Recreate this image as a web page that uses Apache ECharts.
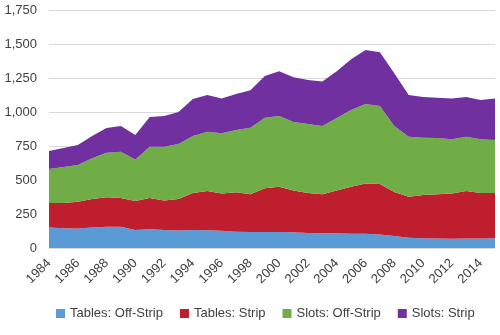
<!DOCTYPE html>
<html>
<head>
<meta charset="utf-8">
<script src="https://cdn.jsdelivr.net/npm/echarts@6/dist/echarts.min.js"></script>
<style>html,body{margin:0;padding:0;background:#fff}#c{width:500px;height:335px}</style>
</head>
<body>
<div id="c"></div>
<script>
var years = [];
for (var y = 1984; y <= 2015; y++) years.push(String(y));
var seriesNames = ['Tables: Off-Strip', 'Tables: Strip', 'Slots: Off-Strip', 'Slots: Strip'];
var tablesOffStrip = [150,145,143,150,157,157,132,137,133,128,133,130,127,120,118,118,118,115,110,108,108,105,105,100,88,75,72,70,68,70,70,72];
var tablesStrip    = [181,186,197,210,216,210,213,230,217,232,272,290,273,290,277,322,332,307,295,287,314,345,370,370,324,302,318,325,332,350,335,333];
var slotsOffStrip  = [250,265,270,300,327,341,305,378,395,405,418,435,443,457,490,518,520,505,507,502,533,564,583,575,485,441,420,413,400,398,395,390];
var slotsStrip     = [132,139,147,163,182,189,180,218,225,235,272,270,257,265,275,306,330,328,323,328,345,373,397,395,388,307,300,297,300,292,288,305];
var colors = ['#5b9bd5', '#be1e2d', '#70ad47', '#7030a0'];
var dataSets = [tablesOffStrip, tablesStrip, slotsOffStrip, slotsStrip];

var chart = echarts.init(document.getElementById('c'), null, {renderer: 'canvas'});
var font = 'Liberation Sans, Arial, sans-serif';
chart.setOption({
  animation: false,
  color: colors,
  grid: {left: 49, right: 5, top: 10, bottom: 87},
  legend: {
    bottom: 10, left: 51,
    icon: 'rect', itemWidth: 9, itemHeight: 9, itemGap: 17,
    textStyle: {fontFamily: font, fontSize: 13, color: '#404040'},
    data: seriesNames
  },
  xAxis: {
    type: 'category', data: years, boundaryGap: false,
    axisLine: {show: false}, axisTick: {show: false},
    axisLabel: {interval: 1, rotate: 45, fontFamily: font, fontSize: 13, color: '#404040', margin: 13}
  },
  yAxis: {
    type: 'value', min: 0, max: 1750, interval: 250,
    axisLine: {show: false}, axisTick: {show: false},
    splitLine: {lineStyle: {color: '#d9d9d9'}},
    axisLabel: {fontFamily: font, fontSize: 13, color: '#404040', margin: 12,
      formatter: function (v) { return v.toLocaleString('en-US'); }}
  },
  series: dataSets.map(function (d, i) {
    return {
      name: seriesNames[i], type: 'line', stack: 'total', data: d,
      symbol: 'none', lineStyle: {width: 0},
      areaStyle: {color: colors[i], opacity: 1}
    };
  })
});
</script>
</body>
</html>
